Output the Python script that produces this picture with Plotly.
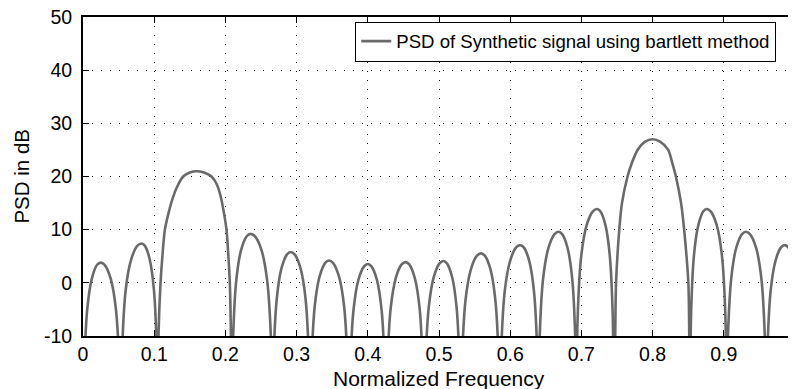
import plotly.graph_objects as go

# Normalized frequency samples (lobes separated by nulls)
freq = [
    0.0, 0.0015, 0.0060, 0.0124, 0.0198, 0.0248, 0.0304, 0.0389, 0.0462, 0.0513,
    0.053, 0.0548, 0.0600, 0.0677, 0.0764, 0.0823, 0.0868, 0.0937, 0.0996, 0.1036,
    0.1047, 0.1060, 0.1089, 0.1115, 0.1150, 0.1205, 0.1267, 0.1330, 0.1407, 0.1500, 0.1594,
    0.1700, 0.1805, 0.1880, 0.1935, 0.1975, 0.2015, 0.2042, 0.2062, 0.2078,
    0.209, 0.2106, 0.2153, 0.2221, 0.2300, 0.2352, 0.2414, 0.2506, 0.2586, 0.2642,
    0.266, 0.2675, 0.2722, 0.2789, 0.2866, 0.2917, 0.2972, 0.3054, 0.3125, 0.3174,
    0.319, 0.3206, 0.3254, 0.3323, 0.3402, 0.3455, 0.3511, 0.3595, 0.3668, 0.3718,
    0.3735, 0.3751, 0.3799, 0.3868, 0.3947, 0.4000, 0.4051, 0.4128, 0.4194, 0.4240,
    0.4255, 0.4272, 0.4321, 0.4393, 0.4475, 0.4530, 0.4582, 0.4660, 0.4728, 0.4774,
    0.479, 0.4806, 0.4856, 0.4927, 0.5008, 0.5063, 0.5111, 0.5184, 0.5247, 0.5291,
    0.5305, 0.5322, 0.5373, 0.5448, 0.5533, 0.5590, 0.5643, 0.5723, 0.5791, 0.5839,
    0.5855, 0.5872, 0.5923, 0.5998, 0.6083, 0.6140, 0.6191, 0.6268, 0.6334, 0.6380,
    0.6395, 0.6412, 0.6463, 0.6538, 0.6623, 0.6680, 0.6730, 0.6805, 0.6870, 0.6915,
    0.693, 0.6947, 0.6999, 0.7075, 0.7161, 0.7219, 0.7266, 0.7337, 0.7398, 0.7441,
    0.7455, 0.7475, 0.7487, 0.7532, 0.7570, 0.7648, 0.7710, 0.7789, 0.7890, 0.8000,
    0.8110, 0.8219, 0.8275, 0.8327, 0.8400, 0.8443, 0.8502, 0.8515,
    0.8525, 0.8539, 0.8581, 0.8643, 0.8713, 0.8760, 0.8816, 0.8900, 0.8973, 0.9023,
    0.904, 0.9056, 0.9105, 0.9175, 0.9256, 0.9310, 0.9367, 0.9453, 0.9527, 0.9578,
    0.9595, 0.9611, 0.9657, 0.9725, 0.9803, 0.9855, 0.9907, 1.0,
]

# PSD values in dB
psd_db = [
    -30, -16.7, -4.9, 0.8, 3.4, 3.8, 3.4, 0.8, -4.9, -16.7,
    -30, -13.1, -1.3, 4.4, 7.0, 7.4, 7.0, 4.4, -1.3, -13.1,
    -30, -10, 0, 5, 10, 13.3, 16.2, 18.3, 20, 20.75, 21.0,
    20.75, 20, 18.5, 16.2, 13.5, 10, 5, 0, -10,
    -30, -11.3, 0.5, 6.2, 8.76, 9.2, 8.76, 6.2, 0.5, -11.3,
    -30, -14.7, -2.9, 2.8, 5.36, 5.8, 5.36, 2.8, -2.9, -14.7,
    -30, -16.3, -4.5, 1.2, 3.76, 4.2, 3.76, 1.2, -4.5, -16.3,
    -30, -16.95, -5.15, 0.55, 3.11, 3.55, 3.11, 0.55, -5.15, -16.95,
    -30, -16.6, -4.8, 0.9, 3.46, 3.9, 3.46, 0.9, -4.8, -16.6,
    -30, -16.4, -4.6, 1.1, 3.66, 4.1, 3.66, 1.1, -4.6, -16.4,
    -30, -14.95, -3.15, 2.55, 5.11, 5.55, 5.11, 2.55, -3.15, -14.95,
    -30, -13.4, -1.6, 4.1, 6.66, 7.1, 6.66, 4.1, -1.6, -13.4,
    -30, -10.9, 0.9, 6.6, 9.16, 9.6, 9.16, 6.6, 0.9, -10.9,
    -30, -6.6, 5.2, 10.9, 13.46, 13.9, 13.46, 10.9, 5.2, -6.6,
    -30, -10, 0, 10, 15, 20, 22.6, 25, 26.5, 27.0,
    26.5, 25, 22.6, 20, 15, 10, 0, -10,
    -30, -6.6, 5.2, 10.9, 13.46, 13.9, 13.46, 10.9, 5.2, -6.6,
    -30, -10.9, 0.9, 6.6, 9.16, 9.6, 9.16, 6.6, 0.9, -10.9,
    -30, -13.4, -1.6, 4.1, 6.66, 7.1, 6.66, 3.7,
]

x_ticks = [0, 0.1, 0.2, 0.3, 0.4, 0.5, 0.6, 0.7, 0.8, 0.9, 1]
x_tick_text = ["0", "0.1", "0.2", "0.3", "0.4", "0.5", "0.6", "0.7", "0.8", "0.9", "1"]
y_ticks = [-10, 0, 10, 20, 30, 40, 50]
y_tick_text = ["-10", "0", "10", "20", "30", "40", "50"]

series_name = "PSD of Synthetic signal using bartlett method"
x_title = "Normalized Frequency"
y_title = "PSD in dB"

FONT = "Liberation Sans, Arial, Helvetica, sans-serif"

fig = go.Figure()
fig.add_trace(go.Scatter(
    x=freq, y=psd_db, mode="lines", name=series_name,
    line=dict(color="#6a6a6a", width=2.6, shape="spline", smoothing=0.8),
    showlegend=True,
))

axis_common = dict(
    showline=True, linecolor="black", linewidth=2, mirror="ticks",
    ticks="inside", ticklen=6, tickwidth=1, tickcolor="black",
    showgrid=True, gridcolor="black", gridwidth=1, griddash="1px,8px",
    zeroline=False, automargin=False, ticklabeloverflow="allow",
    tickfont=dict(family=FONT, size=19.5, color="black"),
)

fig.update_xaxes(range=[0, 1], tickvals=x_ticks, ticktext=x_tick_text,
                 ticklabelstandoff=0, **axis_common)
fig.update_yaxes(range=[-10, 50], tickvals=y_ticks, ticktext=y_tick_text,
                 ticklabelstandoff=5, **axis_common)

fig.add_annotation(text=x_title, xref="paper", yref="paper", x=0.5, y=-0.1724,
                   xanchor="center", yanchor="bottom", showarrow=False, borderpad=0,
                   font=dict(family=FONT, size=21, color="black"))
fig.add_annotation(text=y_title, xref="paper", yref="paper", x=-0.087, y=0.5,
                   xanchor="center", yanchor="middle", textangle=-90, showarrow=False,
                   font=dict(family=FONT, size=20.5, color="black"))

# The page body adds an 8px offset, so margins are shifted by 8px to put the
# plot area where the reference has it in the 796x389 window.
fig.update_layout(
    template="none",
    width=796, height=389,
    margin=dict(l=75, r=9, t=9, b=61, autoexpand=False),
    paper_bgcolor="white", plot_bgcolor="white",
    font=dict(family=FONT, color="black"),
    legend=dict(x=0.678, xanchor="center", y=0.923, yanchor="middle",
                bgcolor="white", bordercolor="black", borderwidth=1,
                font=dict(family=FONT, size=18.6, color="black"),
                itemwidth=30),
)

fig.write_html("out.html")
